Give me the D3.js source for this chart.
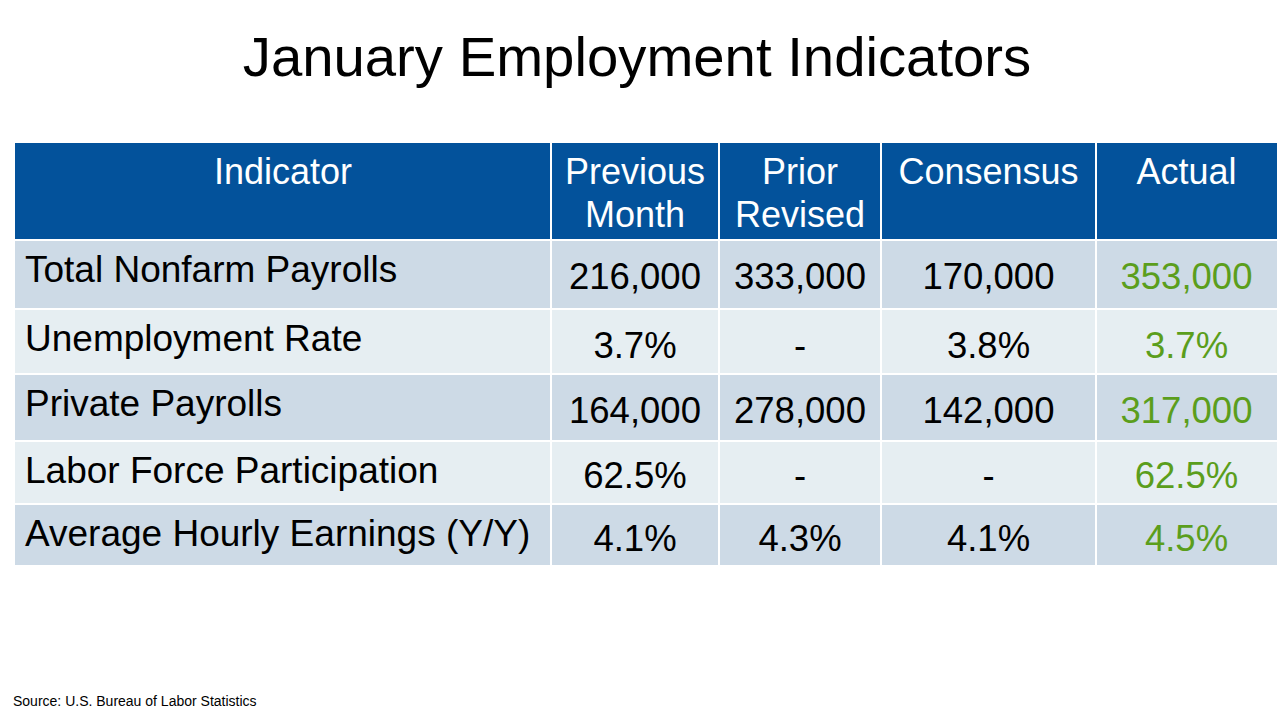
<!DOCTYPE html>
<html>
<head>
<meta charset="utf-8">
<script src="https://cdn.jsdelivr.net/npm/d3@7/dist/d3.min.js"></script>
<style>
  body { margin: 0; background: #fff; }
  svg { display: block; font-family: "Liberation Sans", Arial, sans-serif; }
</style>
</head>
<body>
<div id="chart"></div>
<script>
// table content
var title = "January Employment Indicators";
var headers = [["Indicator"], ["Previous", "Month"], ["Prior", "Revised"], ["Consensus"], ["Actual"]];
var indicators = ["Total Nonfarm Payrolls", "Unemployment Rate", "Private Payrolls",
                  "Labor Force Participation", "Average Hourly Earnings (Y/Y)"];
var previousMonth = ["216,000", "3.7%", "164,000", "62.5%", "4.1%"];
var priorRevised = ["333,000", "-", "278,000", "-", "4.3%"];
var consensus = ["170,000", "3.8%", "142,000", "-", "4.1%"];
var actual = ["353,000", "3.7%", "317,000", "62.5%", "4.5%"];
var source = "Source: U.S. Bureau of Labor Statistics";

window.onload = function () {
    var width = 1280;
    var height = 720;
    var colEdges = [15, 551, 719, 881, 1096, 1277];
    var headTop = 143;
    var headBottom = 241;
    var rowHeights = [69, 65, 67, 63, 62];
    var gap = 2;
    var blue = "#03529b";
    var rowFill = ["#cddae6", "#e6eef2"];
    var green = "#5b9e1c";

    var svg = d3.select("#chart").append("svg")
        .attr("width", width)
        .attr("height", height);

    svg.append("text")
        .attr("x", 637)
        .attr("y", 76)
        .attr("text-anchor", "middle")
        .attr("font-size", 56.3)
        .attr("fill", "#000")
        .text(title);

    // row y positions from the heights
    var rowTops = [];
    var acc = headBottom;
    rowHeights.forEach(function (h) { rowTops.push(acc); acc += h; });

    var cols = d3.range(headers.length);

    // header
    var head = svg.append("g").attr("class", "header");
    head.selectAll("rect")
        .data(cols)
        .enter()
        .append("rect")
        .attr("x", function (i) { return colEdges[i] + (i ? gap / 2 : 0); })
        .attr("y", headTop)
        .attr("width", function (i) { return colEdges[i + 1] - colEdges[i] - (i ? gap / 2 : 0) - (i < cols.length - 1 ? gap / 2 : 0); })
        .attr("height", headBottom - headTop - gap)
        .attr("fill", blue);

    head.selectAll("text")
        .data(headers)
        .enter()
        .append("text")
        .attr("x", function (d, i) { return (colEdges[i] + colEdges[i + 1]) / 2; })
        .attr("y", 184)
        .attr("text-anchor", "middle")
        .attr("font-size", 36)
        .attr("fill", "#fff")
        .selectAll("tspan")
        .data(function (d) { return d; })
        .enter()
        .append("tspan")
        .attr("x", function () { return d3.select(this.parentNode).attr("x"); })
        .attr("dy", function (d, j) { return j ? 43 : 0; })
        .text(function (d) { return d; });

    // body
    var rows = svg.append("g").attr("class", "rows")
        .selectAll("g")
        .data(indicators)
        .enter()
        .append("g")
        .attr("transform", function (d, r) { return "translate(0," + rowTops[r] + ")"; });

    rows.selectAll("rect")
        .data(function (d, r) { return cols.map(function (c) { return {r: r, c: c}; }); })
        .enter()
        .append("rect")
        .attr("x", function (d) { return colEdges[d.c] + (d.c ? gap / 2 : 0); })
        .attr("y", 0)
        .attr("width", function (d) { return colEdges[d.c + 1] - colEdges[d.c] - (d.c ? gap / 2 : 0) - (d.c < cols.length - 1 ? gap / 2 : 0); })
        .attr("height", function (d) { return rowHeights[d.r] - gap; })
        .attr("fill", function (d) { return rowFill[d.r % 2]; });

    rows.append("text")
        .attr("x", 25)
        .attr("y", 41)
        .attr("font-size", 37)
        .attr("fill", "#000")
        .text(function (d) { return d; });

    var valueCols = [previousMonth, priorRevised, consensus, actual];
    rows.selectAll("text.value")
        .data(function (d, r) { return valueCols.map(function (col, k) { return {v: col[r], c: k + 1, r: r}; }); })
        .enter()
        .append("text")
        .attr("class", "value")
        .attr("x", function (d) { return (colEdges[d.c] + colEdges[d.c + 1]) / 2; })
        .attr("y", function (d) { return d.r < 3 ? 48 : 46; })
        .attr("text-anchor", "middle")
        .attr("font-size", 36.5)
        .attr("fill", function (d) { return d.c === 4 ? green : "#000"; })
        .text(function (d) { return d.v; });

    svg.append("text")
        .attr("x", 13)
        .attr("y", 706)
        .attr("font-size", 14)
        .attr("fill", "#000")
        .text(source);
};
</script>
</body>
</html>
